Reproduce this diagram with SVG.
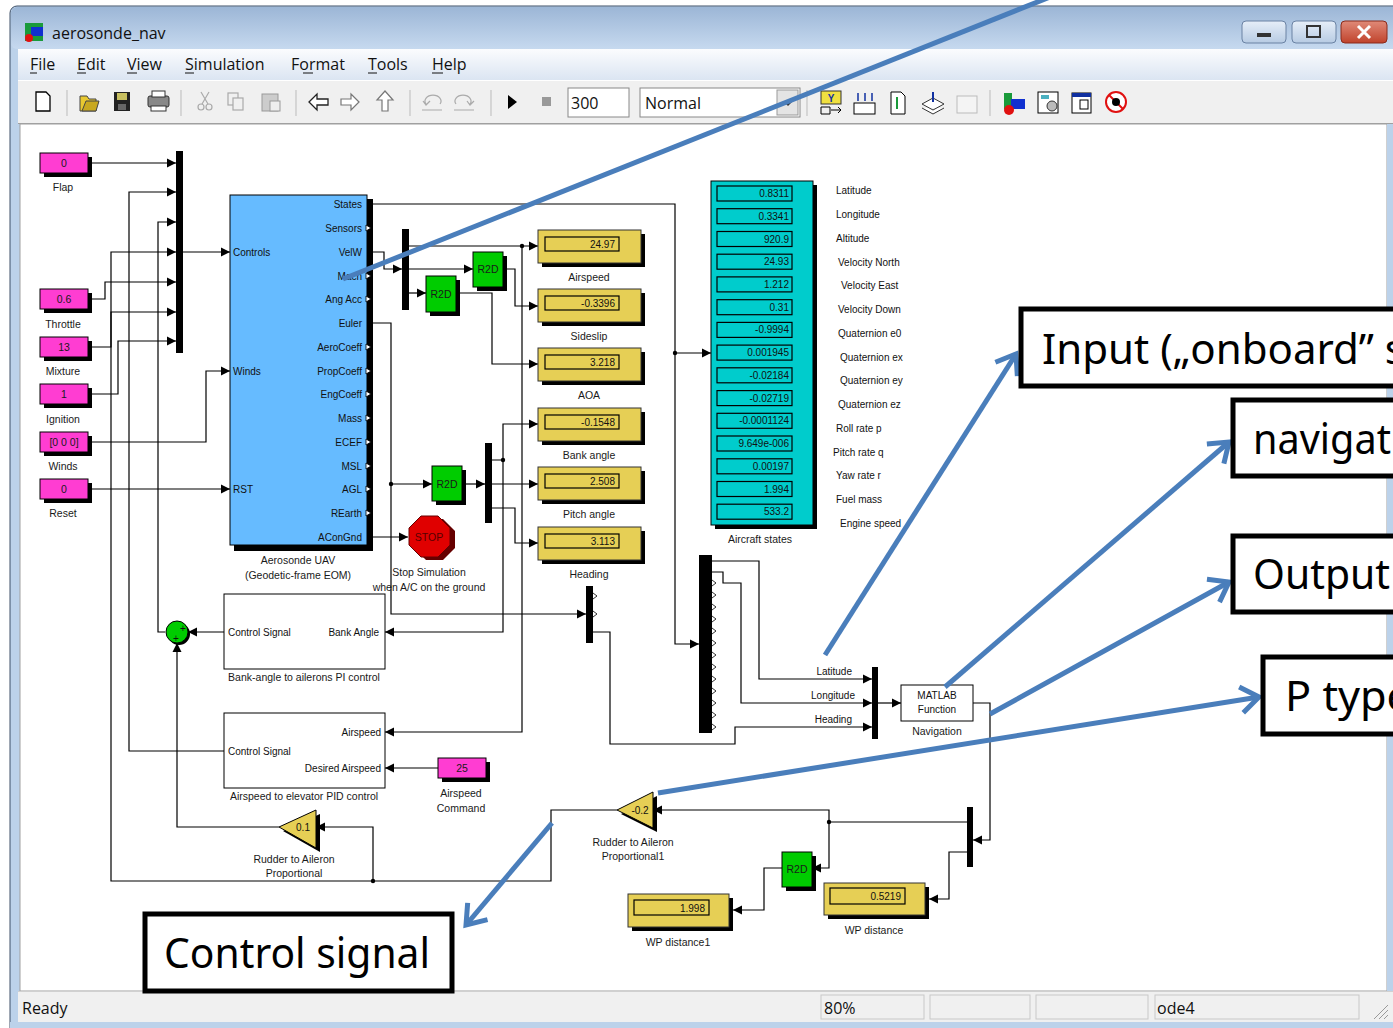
<svg xmlns="http://www.w3.org/2000/svg" width="1393" height="1028" viewBox="0 0 1393 1028">
<defs>
<linearGradient id="tg" x1="0" y1="0" x2="0" y2="1"><stop offset="0" stop-color="#9cb6d6"/><stop offset="1" stop-color="#c6d9ef"/></linearGradient>
<linearGradient id="mg" x1="0" y1="0" x2="0" y2="1"><stop offset="0" stop-color="#fbfcfe"/><stop offset="1" stop-color="#dbe5f2"/></linearGradient>
<linearGradient id="bg" x1="0" y1="0" x2="0" y2="1"><stop offset="0" stop-color="#e6eef8"/><stop offset="1" stop-color="#b7cbe3"/></linearGradient>
<linearGradient id="cg" x1="0" y1="0" x2="0" y2="1"><stop offset="0" stop-color="#e08a78"/><stop offset="1" stop-color="#c0432c"/></linearGradient>
<marker id="arr" markerUnits="userSpaceOnUse" markerWidth="10" markerHeight="10" viewBox="0 0 10 10" refX="9" refY="5" orient="auto"><path d="M0,0.5 L9,5 L0,9.5 z" fill="#000"/></marker>
<marker id="open" markerUnits="userSpaceOnUse" markerWidth="34" markerHeight="34" viewBox="0 0 34 34" refX="26" refY="17" orient="auto"><path d="M8,4 L26,17 L8,30" fill="none" stroke="#4a7ebb" stroke-width="5"/></marker>
</defs>
<style>
.w{stroke:#000;stroke-width:1.2;fill:none}
.a{marker-end:url(#arr)}
.t{font-family:"Liberation Sans",Arial,sans-serif;font-size:10.5px;fill:#1a1a1a}
.s{font-family:"Liberation Sans",Arial,sans-serif;font-size:10px;fill:#111}
.m{text-anchor:middle}
.e{text-anchor:end}
.ui{font-family:"Open Sans","Noto Sans",sans-serif;font-size:16px;fill:#111}
.sh{fill:#000}
.con{fill:#ff3dd2;stroke:#000;stroke-width:1}
.dsp{fill:#e6cf55;stroke:#333;stroke-width:1}
.in{fill:#e6cf55;stroke:#000;stroke-width:1.2}
.r2d{fill:#00cc00;stroke:#000;stroke-width:1}
.bar{fill:#000}
.pm{fill:#fff;stroke:#000;stroke-width:0.8}
.blu{stroke:#4a7ebb;stroke-width:5;fill:none}
.cb{fill:#fff;stroke:#000;stroke-width:5}
.ct{font-family:"Noto Sans","Open Sans",sans-serif;font-size:42px;fill:#000}
.btn{stroke:#6a82a3;stroke-width:1}
.ic{stroke:#555;stroke-width:1.2;fill:none}
.gi{stroke:#aaa;stroke-width:1.2;fill:none}
</style>

<!-- window chrome -->
<g id="window">
<rect x="0" y="0" width="1393" height="1028" fill="#fff"/>
<rect x="10" y="6" width="1400" height="1040" rx="7" fill="#bcd2ea" stroke="#3d4f66" stroke-width="1"/>
<rect x="11" y="7" width="1400" height="42" rx="6" fill="url(#tg)"/>
<rect x="25" y="23" width="18" height="18" fill="#1a9a3a"/>
<rect x="31" y="27" width="12" height="9" fill="#1030d0"/>
<circle cx="29" cy="38" r="4" fill="#e01010"/>
<text x="52" y="39" class="ui">aerosonde_nav</text>
<rect x="1242" y="21" width="44" height="22" rx="4" fill="url(#bg)" class="btn"/>
<rect x="1257" y="33" width="14" height="4" fill="#333"/>
<rect x="1292" y="21" width="44" height="22" rx="4" fill="url(#bg)" class="btn"/>
<rect x="1307" y="26" width="13" height="11" fill="none" stroke="#333" stroke-width="2"/>
<rect x="1341" y="21" width="46" height="22" rx="4" fill="url(#cg)" stroke="#8a2a1a"/>
<path d="M1358,26 L1370,38 M1370,26 L1358,38" stroke="#fff" stroke-width="3"/>
<rect x="18" y="49" width="1375" height="31" fill="url(#mg)"/>
<g class="ui">
<text x="30" y="70">File</text><text x="77" y="70">Edit</text><text x="127" y="70">View</text><text x="185" y="70">Simulation</text><text x="291" y="70">Format</text><text x="368" y="70">Tools</text><text x="432" y="70">Help</text>
</g>
<path d="M30,73 H37 M77,73 H86 M127,73 H137 M185,73 H194 M303,73 H313 M368,73 H377 M432,73 H443" stroke="#111" stroke-width="1"/>
<rect x="18" y="80" width="1375" height="43" fill="#f0f0f0"/>
<path d="M18,80.5 H1393" stroke="#fff"/>
<path d="M18,123.5 H1393" stroke="#a0a0a0"/>
<!-- toolbar icons -->
<path d="M36,92 H46 L50,96 V111 H36 Z" fill="#fff" stroke="#000" stroke-width="1.3"/>
<path d="M67,90 V116 M181,90 V116 M296,90 V116 M410,90 V116 M491,90 V116 M807,90 V116 M990,90 V116" stroke="#bbb"/>
<path d="M80,96 H87 L89,99 H96 V111 H80 Z" fill="#e8c830" stroke="#444"/>
<path d="M82,111 L86,101 H99 L96,111 Z" fill="#c8a820" stroke="#444"/>
<rect x="114" y="92" width="16" height="19" fill="#222"/>
<rect x="117" y="93" width="10" height="7" fill="#c8c060"/>
<rect x="118" y="104" width="8" height="6" fill="#666"/>
<rect x="148" y="96" width="21" height="11" rx="2" fill="#888" stroke="#333"/>
<rect x="152" y="91" width="13" height="6" fill="#fff" stroke="#333"/>
<rect x="151" y="106" width="15" height="5" fill="#fff" stroke="#333"/>
<path d="M201,92 L208,104 M209,92 L202,104" class="gi"/><circle cx="201" cy="107" r="3" class="gi"/><circle cx="209" cy="107" r="3" class="gi"/>
<rect x="228" y="93" width="10" height="12" class="gi"/><rect x="233" y="98" width="10" height="12" fill="#f0f0f0" stroke="#aaa" stroke-width="1.2"/>
<rect x="262" y="94" width="16" height="17" fill="#ccc" stroke="#999"/><rect x="270" y="101" width="10" height="10" fill="#eee" stroke="#999"/>
<path d="M309,102 L317,94 V99 H328 V105 H317 V110 Z" fill="#fff" stroke="#222" stroke-width="1.3"/>
<path d="M359,102 L351,94 V99 H341 V105 H351 V110 Z" fill="#fff" stroke="#777" stroke-width="1.2"/>
<path d="M385,91 L393,100 H388 V111 H382 V100 H377 Z" fill="#fff" stroke="#777" stroke-width="1.2"/>
<path d="M426,104 A8,6 0 1 1 440,104 M423,101 L426,105 L430,101 M422,110 H442" class="gi"/>
<path d="M456,104 A8,6 0 1 1 470,104 M467,101 L470,105 L474,101 M454,110 H474" class="gi"/>
<path d="M508,95 L517,102 L508,109 Z" fill="#000"/>
<rect x="542" y="97" width="9" height="9" fill="#999"/>
<rect x="568" y="88" width="61" height="29" fill="#fff" stroke="#888"/>
<text x="571" y="109" class="ui">300</text>
<rect x="640" y="88" width="160" height="29" fill="#fff" stroke="#888"/>
<text x="645" y="109" class="ui">Normal</text>
<rect x="777" y="90" width="21" height="25" fill="#e4e4e4" stroke="#999"/>
<path d="M783,101 H793 L788,106 Z" fill="#333"/>
<rect x="821" y="91" width="20" height="13" fill="#f0e040" stroke="#333"/>
<text x="831" y="102" class="s m" style="font-weight:bold;fill:#1030a0">Y</text>
<path d="M821,107 H830 V114 H821 Z M831,110 H841 M838,107 L841,110 L838,113" fill="none" stroke="#000"/>
<rect x="854" y="103" width="21" height="11" fill="#fff" stroke="#000"/>
<path d="M858,93 V101 M865,93 V101 M872,93 V101" stroke="#1030a0" stroke-width="1.5"/>
<path d="M891,92 H901 L905,96 V114 H891 Z" fill="#fff" stroke="#000"/>
<path d="M897,97 V109" stroke="#1a9a3a" stroke-width="2"/>
<path d="M922,104 L933,98 L944,104 L933,110 Z M922,108 L933,114 L944,108" fill="#fff" stroke="#333"/>
<path d="M933,92 V102" stroke="#1030a0" stroke-width="2"/>
<rect x="957" y="96" width="20" height="17" fill="#f4f4f4" stroke="#bbb"/>
<rect x="1004" y="93" width="8" height="16" fill="#1a9a3a"/><rect x="1011" y="99" width="14" height="10" fill="#1030d0"/><circle cx="1009" cy="110" r="5" fill="#e01010"/>
<rect x="1038" y="92" width="20" height="21" fill="#fff" stroke="#000"/><circle cx="1052" cy="106" r="5" fill="#bbb" stroke="#333"/><rect x="1041" y="95" width="8" height="4" fill="#4ab0c0"/>
<rect x="1072" y="93" width="19" height="20" fill="#fff" stroke="#000"/><rect x="1072" y="93" width="19" height="4" fill="#1030a0"/><rect x="1080" y="100" width="8" height="9" fill="none" stroke="#000"/>
<circle cx="1116" cy="102" r="10" fill="#fff" stroke="#e01010" stroke-width="2"/><path d="M1109,95 L1123,109" stroke="#e01010" stroke-width="2"/><circle cx="1116" cy="102" r="4" fill="#000"/>
<!-- canvas -->
<rect x="20" y="124" width="1367" height="867" fill="#fff" stroke="#a0a0a0"/>
<rect x="1387" y="124" width="6" height="867" fill="#bcd2ea"/>
<!-- status bar -->
<rect x="18" y="991" width="1375" height="31" fill="#f0f0f0"/>
<path d="M18,991.5 H1393" stroke="#d0d0d0"/>
<text x="22" y="1014" class="ui">Ready</text>
<rect x="821" y="995" width="103" height="24" fill="none" stroke="#c8c8c8"/>
<rect x="930" y="995" width="100" height="24" fill="none" stroke="#c8c8c8"/>
<rect x="1036" y="995" width="112" height="24" fill="none" stroke="#c8c8c8"/>
<rect x="1155" y="995" width="204" height="24" fill="none" stroke="#c8c8c8"/>
<text x="824" y="1014" class="ui">80%</text>
<text x="1157" y="1014" class="ui">ode4</text>
<path d="M1374,1019 L1388,1005 M1379,1019 L1388,1010 M1384,1019 L1388,1015" stroke="#999"/>
<rect x="10" y="1022" width="1383" height="6" fill="#bcd2ea"/>
</g>

<!-- connectors -->
<g id="connectors">
<path class="w a" d="M88,163 H176"/>
<path class="w a" d="M224,751 H129 V192 H176"/>
<path class="w a" d="M165,632 H158 V222 H176"/>
<path class="w a" d="M617,810 H551 V881 H111 V252 H176"/>
<path class="w a" d="M88,299 H105 V282 H176"/>
<path class="w a" d="M88,347 H111 V312 H176"/>
<path class="w a" d="M88,394 H118 V341 H176"/>
<path class="w a" d="M88,442 H206 V371 H230"/>
<path class="w a" d="M88,489 H230"/>
<path class="w a" d="M183,252 H230"/>
<path class="w a" d="M373,204 H675 V644 H699"/>
<path class="w a" d="M675,353 H711"/>
<circle cx="675" cy="353" r="2.2"/>
<path class="w a" d="M373,252 H384 V269 H402"/>
<path class="w a" d="M409,246 H538"/>
<circle cx="522" cy="246" r="2.2"/>
<path class="w a" d="M522,246 V732 H385"/>
<path class="w a" d="M409,269 H473"/>
<path class="w a" d="M503,269 H515 V306 H538"/>
<path class="w a" d="M409,293 H426"/>
<path class="w a" d="M456,293 H492 V364 H538"/>
<path class="w a" d="M373,323 H391 V614 H586"/>
<circle cx="391" cy="484" r="2.2"/>
<path class="w a" d="M391,484 H432"/>
<path class="w a" d="M462,484 H485"/>
<path class="w a" d="M492,460 H503 V424 H538"/>
<circle cx="503" cy="460" r="2.2"/>
<path class="w a" d="M503,460 V632 H385"/>
<path class="w a" d="M492,484 H538"/>
<path class="w a" d="M492,508 H515 V543 H538"/>
<path class="w a" d="M373,537 H408"/>
<path class="w a" d="M593,632 H610 V744 H735 V727 H872"/>
<path class="w a" d="M712,561 H759 V679 H872"/>
<path class="w a" d="M712,572 H723 V583 H741 V703 H872"/>
<path class="w a" d="M878,703 H901"/>
<path class="w a" d="M973,703 H990 V840 H973"/>
<path class="w a" d="M967,822 H829 V810 H653"/>
<circle cx="829" cy="822" r="2.2"/>
<path class="w a" d="M829,822 V868 H812"/>
<path class="w a" d="M782,868 H764 V910 H733"/>
<path class="w a" d="M967,852 H949 V899 H929"/>
<path class="w a" d="M438,768 H385"/>
<path class="w a" d="M224,632 H188"/>
<circle cx="373" cy="881" r="2.2"/>
<path class="w a" d="M373,881 V827 H316"/>
<path class="w a" d="M279,827 H177 V643"/>
</g>

<!-- constants -->
<g id="flap"><rect x="44" y="157" width="48" height="20" class="sh"/><rect x="40" y="153" width="48" height="20" class="con"/><text x="64" y="167" class="t m">0</text><text x="63" y="191" class="t m">Flap</text></g>
<g id="throttle"><rect x="44" y="293" width="48" height="20" class="sh"/><rect x="40" y="289" width="48" height="20" class="con"/><text x="64" y="303" class="t m">0.6</text><text x="63" y="328" class="t m">Throttle</text></g>
<g id="mixture"><rect x="44" y="341" width="48" height="20" class="sh"/><rect x="40" y="337" width="48" height="20" class="con"/><text x="64" y="351" class="t m">13</text><text x="63" y="375" class="t m">Mixture</text></g>
<g id="ignition"><rect x="44" y="388" width="48" height="20" class="sh"/><rect x="40" y="384" width="48" height="20" class="con"/><text x="64" y="398" class="t m">1</text><text x="63" y="423" class="t m">Ignition</text></g>
<g id="winds"><rect x="44" y="436" width="48" height="20" class="sh"/><rect x="40" y="432" width="48" height="20" class="con"/><text x="64" y="446" class="t m">[0 0 0]</text><text x="63" y="470" class="t m">Winds</text></g>
<g id="reset"><rect x="44" y="483" width="48" height="20" class="sh"/><rect x="40" y="479" width="48" height="20" class="con"/><text x="64" y="493" class="t m">0</text><text x="63" y="517" class="t m">Reset</text></g>
<g id="airspeed-command"><rect x="442" y="762" width="48" height="20" class="sh"/><rect x="438" y="758" width="48" height="20" class="con"/><text x="462" y="772" class="t m">25</text><text x="461" y="797" class="t m">Airspeed</text><text x="461" y="812" class="t m">Command</text></g>

<!-- control mux -->
<g id="controls-mux"><rect x="176" y="151" width="7" height="202" class="bar"/></g>

<!-- EOM -->
<g id="eom">
<rect x="234" y="199" width="139" height="352" class="sh"/>
<rect x="230" y="195" width="137" height="350" fill="#66bbff" stroke="#000"/>
<text x="233" y="256" class="s">Controls</text>
<text x="233" y="375" class="s">Winds</text>
<text x="233" y="493" class="s">RST</text>
<g class="s e">
<text x="362" y="208">States</text><text x="362" y="232">Sensors</text><text x="362" y="256">VelW</text><text x="362" y="280">Mach</text><text x="362" y="303">Ang Acc</text><text x="362" y="327">Euler</text><text x="362" y="351">AeroCoeff</text><text x="362" y="375">PropCoeff</text><text x="362" y="398">EngCoeff</text><text x="362" y="422">Mass</text><text x="362" y="446">ECEF</text><text x="362" y="470">MSL</text><text x="362" y="493">AGL</text><text x="362" y="517">REarth</text><text x="362" y="541">AConGnd</text>
</g>
<g class="pm">
<path d="M366,225 L371,228 L366,231 Z"/><path d="M366,273 L371,276 L366,279 Z"/><path d="M366,296 L371,299 L366,302 Z"/><path d="M366,344 L371,347 L366,350 Z"/><path d="M366,368 L371,371 L366,374 Z"/><path d="M366,391 L371,394 L366,397 Z"/><path d="M366,415 L371,418 L366,421 Z"/><path d="M366,439 L371,442 L366,445 Z"/><path d="M366,463 L371,466 L366,469 Z"/><path d="M366,486 L371,489 L366,492 Z"/><path d="M366,510 L371,513 L366,516 Z"/>
</g>
<text x="298" y="564" class="t m">Aerosonde UAV</text>
<text x="298" y="579" class="t m">(Geodetic-frame EOM)</text>
</g>

<!-- bus / demux bars -->
<g id="velw-demux"><rect x="402" y="229" width="7" height="81" class="bar"/></g>
<g id="euler-demux"><rect x="485" y="443" width="7" height="80" class="bar"/></g>
<g id="heading-demux"><rect x="586" y="586" width="7" height="57" class="bar"/><path d="M593,593 L597,596 L593,599 M593,611 L597,614 L593,617" class="pm" fill="none"/></g>
<g id="states-bus-selector">
<rect x="699" y="555" width="13" height="178" class="bar"/>
<path class="pm" fill="none" d="M712,580 l4,3 l-4,3 M712,592 l4,3 l-4,3 M712,604 l4,3 l-4,3 M712,616 l4,3 l-4,3 M712,628 l4,3 l-4,3 M712,640 l4,3 l-4,3 M712,652 l4,3 l-4,3 M712,664 l4,3 l-4,3 M712,676 l4,3 l-4,3 M712,688 l4,3 l-4,3 M712,700 l4,3 l-4,3 M712,712 l4,3 l-4,3 M712,724 l4,3 l-4,3"/>
</g>
<g id="nav-mux"><rect x="872" y="667" width="6" height="72" class="bar"/>
<text x="852" y="675" class="s e">Latitude</text><text x="855" y="699" class="s e">Longitude</text><text x="852" y="723" class="s e">Heading</text></g>
<g id="wp-demux"><rect x="967" y="807" width="6" height="60" class="bar"/></g>

<!-- R2D -->
<g id="r2d-1"><rect x="477" y="256" width="30" height="35" class="sh"/><rect x="473" y="252" width="30" height="35" class="r2d"/><text x="488" y="273" class="t m">R2D</text></g>
<g id="r2d-2"><rect x="430" y="280" width="30" height="36" class="sh"/><rect x="426" y="276" width="30" height="36" class="r2d"/><text x="441" y="298" class="t m">R2D</text></g>
<g id="r2d-3"><rect x="436" y="470" width="30" height="35" class="sh"/><rect x="432" y="466" width="30" height="35" class="r2d"/><text x="447" y="488" class="t m">R2D</text></g>
<g id="r2d-4"><rect x="786" y="856" width="30" height="35" class="sh"/><rect x="782" y="852" width="30" height="35" class="r2d"/><text x="797" y="873" class="t m">R2D</text></g>

<!-- displays -->
<g id="disp-airspeed"><rect x="542" y="234" width="103" height="33" class="sh"/><rect x="538" y="230" width="103" height="33" class="dsp"/><rect x="545" y="237" width="74" height="14" class="in"/><text x="615" y="248" class="s e">24.97</text><text x="589" y="281" class="t m">Airspeed</text></g>
<g id="disp-sideslip"><rect x="542" y="293" width="103" height="33" class="sh"/><rect x="538" y="289" width="103" height="33" class="dsp"/><rect x="545" y="296" width="74" height="14" class="in"/><text x="615" y="307" class="s e">-0.3396</text><text x="589" y="340" class="t m">Sideslip</text></g>
<g id="disp-aoa"><rect x="542" y="352" width="103" height="33" class="sh"/><rect x="538" y="348" width="103" height="33" class="dsp"/><rect x="545" y="355" width="74" height="14" class="in"/><text x="615" y="366" class="s e">3.218</text><text x="589" y="399" class="t m">AOA</text></g>
<g id="disp-bank"><rect x="542" y="412" width="103" height="33" class="sh"/><rect x="538" y="408" width="103" height="33" class="dsp"/><rect x="545" y="415" width="74" height="14" class="in"/><text x="615" y="426" class="s e">-0.1548</text><text x="589" y="459" class="t m">Bank angle</text></g>
<g id="disp-pitch"><rect x="542" y="471" width="103" height="33" class="sh"/><rect x="538" y="467" width="103" height="33" class="dsp"/><rect x="545" y="474" width="74" height="14" class="in"/><text x="615" y="485" class="s e">2.508</text><text x="589" y="518" class="t m">Pitch angle</text></g>
<g id="disp-heading"><rect x="542" y="531" width="103" height="33" class="sh"/><rect x="538" y="527" width="103" height="33" class="dsp"/><rect x="545" y="534" width="74" height="14" class="in"/><text x="615" y="545" class="s e">3.113</text><text x="589" y="578" class="t m">Heading</text></g>
<g id="disp-wp1"><rect x="632" y="898" width="101" height="33" class="sh"/><rect x="628" y="894" width="101" height="33" class="dsp"/><rect x="634" y="900" width="75" height="15" class="in"/><text x="705" y="912" class="s e">1.998</text><text x="678" y="946" class="t m">WP distance1</text></g>
<g id="disp-wp"><rect x="828" y="887" width="101" height="32" class="sh"/><rect x="824" y="883" width="101" height="32" class="dsp"/><rect x="830" y="888" width="75" height="16" class="in"/><text x="901" y="900" class="s e">0.5219</text><text x="874" y="934" class="t m">WP distance</text></g>

<!-- aircraft states -->
<g id="aircraft-states">
<rect x="715" y="185" width="102" height="344" class="sh"/>
<rect x="711" y="181" width="102" height="344" fill="#00cccc" stroke="#000"/>
<g fill="#00cccc" stroke="#000" stroke-width="1.2">
<rect x="717" y="186" width="75" height="15"/><rect x="717" y="208.7" width="75" height="15"/><rect x="717" y="231.5" width="75" height="15"/><rect x="717" y="254.2" width="75" height="15"/><rect x="717" y="276.9" width="75" height="15"/><rect x="717" y="299.7" width="75" height="15"/><rect x="717" y="322.4" width="75" height="15"/><rect x="717" y="345.1" width="75" height="15"/><rect x="717" y="367.8" width="75" height="15"/><rect x="717" y="390.6" width="75" height="15"/><rect x="717" y="413.3" width="75" height="15"/><rect x="717" y="436" width="75" height="15"/><rect x="717" y="458.8" width="75" height="15"/><rect x="717" y="481.5" width="75" height="15"/><rect x="717" y="504.2" width="75" height="15"/>
</g>
<g class="s e">
<text x="789" y="197">0.8311</text><text x="789" y="219.7">0.3341</text><text x="789" y="242.5">920.9</text><text x="789" y="265.2">24.93</text><text x="789" y="287.9">1.212</text><text x="789" y="310.7">0.31</text><text x="789" y="333.4">-0.9994</text><text x="789" y="356.1">0.001945</text><text x="789" y="378.8">-0.02184</text><text x="789" y="401.6">-0.02719</text><text x="789" y="424.3">-0.0001124</text><text x="789" y="447">9.649e-006</text><text x="789" y="469.8">0.00197</text><text x="789" y="492.5">1.994</text><text x="789" y="515.2">533.2</text>
</g>
<text x="760" y="543" class="t m">Aircraft states</text>
<g class="s">
<text x="836" y="194">Latitude</text><text x="836" y="218">Longitude</text><text x="836" y="242">Altitude</text><text x="838" y="266">Velocity North</text><text x="841" y="289">Velocity East</text><text x="838" y="313">Velocity Down</text><text x="838" y="337">Quaternion e0</text><text x="840" y="361">Quaternion ex</text><text x="840" y="384">Quaternion ey</text><text x="838" y="408">Quaternion ez</text><text x="836" y="432">Roll rate p</text><text x="833" y="456">Pitch rate q</text><text x="836" y="479">Yaw rate r</text><text x="836" y="503">Fuel mass</text><text x="840" y="527">Engine speed</text>
</g>
</g>

<!-- stop -->
<g id="stop">
<polygon points="453,545 441,557 424,557 412,545 412,528 424,516 441,516 453,528" transform="translate(2,3)" fill="#600"/>
<polygon points="450,545 438,557 421,557 409,545 409,528 421,516 438,516 450,528" fill="#e00000" stroke="#600"/>
<text x="429" y="541" class="t m" style="fill:#500">STOP</text>
<text x="429" y="576" class="t m">Stop Simulation</text>
<text x="429" y="591" class="t m">when A/C on the ground</text>
</g>

<!-- sum -->
<g id="sum">
<circle cx="179" cy="634" r="11" fill="#000"/>
<circle cx="177" cy="632" r="11" fill="#00cc00" stroke="#000"/>
<text x="183" y="632" class="s m">+</text>
<text x="176" y="642" class="s m">+</text>
</g>

<!-- PI / PID -->
<g id="bank-pi">
<rect x="224" y="594" width="161" height="75" fill="#fff" stroke="#000"/>
<text x="228" y="636" class="s">Control Signal</text>
<text x="379" y="636" class="s e">Bank Angle</text>
<text x="304" y="681" class="t m">Bank-angle to ailerons PI control</text>
</g>
<g id="airspeed-pid">
<rect x="224" y="713" width="161" height="75" fill="#fff" stroke="#000"/>
<text x="381" y="736" class="s e">Airspeed</text>
<text x="228" y="755" class="s">Control Signal</text>
<text x="381" y="772" class="s e">Desired Airspeed</text>
<text x="304" y="800" class="t m">Airspeed to elevator PID control</text>
</g>

<!-- gains -->
<g id="gain-01">
<polygon points="283,831 320,814 320,852" class="sh"/>
<polygon points="279,827 316,810 316,848" fill="#e6cf55" stroke="#000"/>
<text x="303" y="831" class="s m">0.1</text>
<text x="294" y="863" class="t m">Rudder to Aileron</text>
<text x="294" y="877" class="t m">Proportional</text>
</g>
<g id="gain-02">
<polygon points="621,814 657,796 657,832" class="sh"/>
<polygon points="617,810 653,792 653,828" fill="#e6cf55" stroke="#000"/>
<text x="640" y="814" class="s m">-0.2</text>
<text x="633" y="846" class="t m">Rudder to Aileron</text>
<text x="633" y="860" class="t m">Proportional1</text>
</g>

<!-- navigation -->
<g id="navigation">
<rect x="901" y="685" width="72" height="36" fill="#fff" stroke="#000"/>
<text x="937" y="699" class="s m">MATLAB</text>
<text x="937" y="713" class="s m">Function</text>
<text x="937" y="735" class="t m">Navigation</text>
</g>

<!-- callouts -->
<g id="callout-lines">
<path class="blu" d="M1050,-3 L343,279"/>
<path class="blu" d="M825,655 L1016,354" marker-end="url(#open)"/>
<path class="blu" d="M945,687 L1229,442" marker-end="url(#open)"/>
<path class="blu" d="M990,714 L1229,582" marker-end="url(#open)"/>
<path class="blu" d="M658,793 L1259,697" marker-end="url(#open)"/>
<path class="blu" d="M552,823 L466,925" marker-end="url(#open)"/>
</g>
<g id="callout-input"><rect x="1021" y="309" width="420" height="77" class="cb"/><text x="1042" y="364" class="ct" textLength="363" lengthAdjust="spacingAndGlyphs">Input („onboard” s</text></g>
<g id="callout-navigat"><rect x="1233" y="400" width="200" height="76" class="cb"/><text x="1253" y="454" class="ct" textLength="138" lengthAdjust="spacingAndGlyphs">navigat</text></g>
<g id="callout-output"><rect x="1233" y="536" width="200" height="76" class="cb"/><text x="1253" y="589" class="ct" textLength="137" lengthAdjust="spacingAndGlyphs">Output</text></g>
<g id="callout-ptype"><rect x="1263" y="657" width="200" height="77" class="cb"/><text x="1285" y="711" class="ct" textLength="126" lengthAdjust="spacingAndGlyphs">P type</text></g>
<g id="callout-control"><rect x="145" y="914" width="307" height="77" class="cb"/><text x="164" y="968" class="ct" textLength="266" lengthAdjust="spacingAndGlyphs">Control signal</text></g>
</svg>
